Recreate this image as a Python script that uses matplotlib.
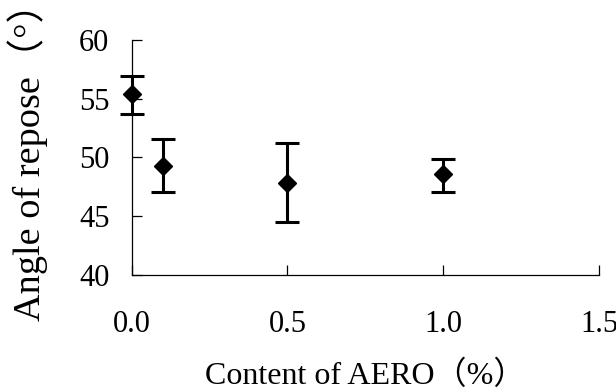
import matplotlib
matplotlib.use("Agg")
import matplotlib.pyplot as plt
import numpy as np

plt.rcParams["font.family"] = ["Liberation Serif", "Noto Sans CJK SC", "DejaVu Sans"]

# AERO content (%) and angle of repose (deg)
content = [0.0, 0.1, 0.5, 1.0]
angle = [55.4, 49.3, 47.8, 48.6]
err_low = [1.7, 2.2, 3.3, 1.5]
err_high = [1.5, 2.3, 3.4, 1.3]

fig = plt.figure(figsize=(6.16, 3.91), dpi=100)
ax = fig.add_axes([0.2138, 0.2967, 0.7586, 0.601])

ax.errorbar(content, angle, yerr=[err_low, err_high], fmt="D", color="black",
            markersize=9, elinewidth=2.2, capsize=8.5, capthick=2.2, clip_on=False)

ax.set_xlim(0, 1.5)
ax.set_ylim(40, 60)
ax.set_xticks([0.0, 0.5, 1.0, 1.5])
ax.set_xticklabels(["0.0", "0.5", "1.0", "1.5"])
ax.set_yticks([40, 45, 50, 55, 60])

for side in ["top", "right"]:
    ax.spines[side].set_visible(False)
for side in ["left", "bottom"]:
    ax.spines[side].set_linewidth(0.9)

ax.tick_params(axis="both", direction="in", length=7, width=0.9, labelsize=22)
ax.tick_params(axis="x", pad=25)
ax.tick_params(axis="y", pad=16)

ax.set_xlabel("Content of AERO（%）", fontsize=23)
ax.xaxis.set_label_coords(0.499, -0.363)
ax.set_ylabel("Angle of repose（°）", fontsize=27.5)
ax.yaxis.set_label_coords(-0.179, 0.52)

fig.savefig("out.png", dpi=100)
